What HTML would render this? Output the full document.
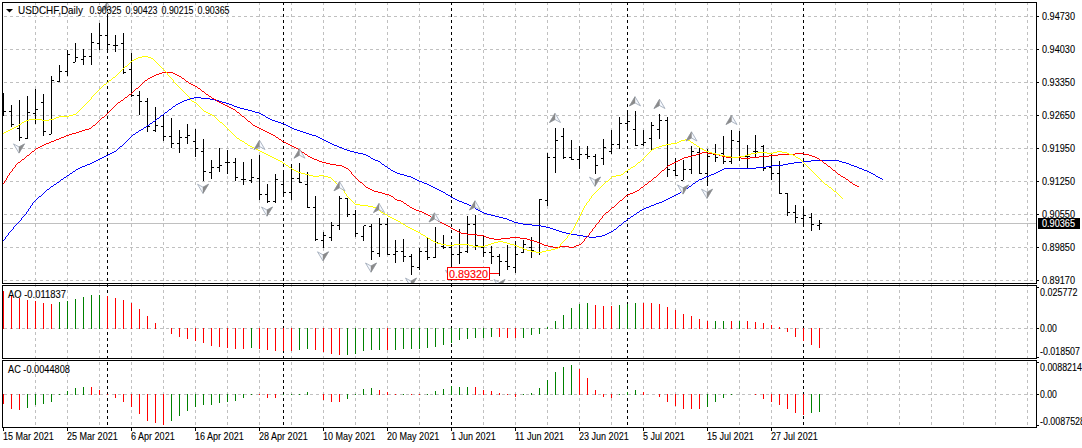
<!DOCTYPE html>
<html><head><meta charset="utf-8">
<style>
html,body{margin:0;padding:0;background:#fff;}
body{width:1082px;height:448px;overflow:hidden;}
svg{display:block;}
text{font-family:"Liberation Sans",sans-serif;}
</style></head><body>
<svg width="1082" height="448" viewBox="0 0 1082 448">
<defs>
<pattern id="vd" x="0" y="0" width="1" height="6" patternUnits="userSpaceOnUse"><rect x="0" y="2" width="1" height="3" fill="#c0c0c0"/></pattern>
<pattern id="vk" x="0" y="0" width="1" height="6" patternUnits="userSpaceOnUse"><rect x="0" y="2" width="1" height="3" fill="#000"/></pattern>
<pattern id="hd" x="0" y="0" width="6" height="1" patternUnits="userSpaceOnUse"><rect x="4" y="0" width="2" height="1" fill="#c0c0c0"/><rect x="0" y="0" width="1" height="1" fill="#c0c0c0"/></pattern>
<clipPath id="mainclip"><rect x="3" y="3" width="1033" height="280"/></clipPath>
</defs>
<rect x="0" y="0" width="1082" height="448" fill="#fff"/>
<g shape-rendering="crispEdges">
<rect x="35" y="3" width="1" height="424" fill="url(#vd)"/>
<rect x="67" y="3" width="1" height="424" fill="url(#vd)"/>
<rect x="99" y="3" width="1" height="424" fill="url(#vd)"/>
<rect x="131" y="3" width="1" height="424" fill="url(#vd)"/>
<rect x="163" y="3" width="1" height="424" fill="url(#vd)"/>
<rect x="195" y="3" width="1" height="424" fill="url(#vd)"/>
<rect x="227" y="3" width="1" height="424" fill="url(#vd)"/>
<rect x="259" y="3" width="1" height="424" fill="url(#vd)"/>
<rect x="291" y="3" width="1" height="424" fill="url(#vd)"/>
<rect x="323" y="3" width="1" height="424" fill="url(#vd)"/>
<rect x="355" y="3" width="1" height="424" fill="url(#vd)"/>
<rect x="387" y="3" width="1" height="424" fill="url(#vd)"/>
<rect x="419" y="3" width="1" height="424" fill="url(#vd)"/>
<rect x="451" y="3" width="1" height="424" fill="url(#vd)"/>
<rect x="483" y="3" width="1" height="424" fill="url(#vd)"/>
<rect x="515" y="3" width="1" height="424" fill="url(#vd)"/>
<rect x="547" y="3" width="1" height="424" fill="url(#vd)"/>
<rect x="579" y="3" width="1" height="424" fill="url(#vd)"/>
<rect x="611" y="3" width="1" height="424" fill="url(#vd)"/>
<rect x="643" y="3" width="1" height="424" fill="url(#vd)"/>
<rect x="675" y="3" width="1" height="424" fill="url(#vd)"/>
<rect x="707" y="3" width="1" height="424" fill="url(#vd)"/>
<rect x="739" y="3" width="1" height="424" fill="url(#vd)"/>
<rect x="771" y="3" width="1" height="424" fill="url(#vd)"/>
<rect x="803" y="3" width="1" height="424" fill="url(#vd)"/>
<rect x="835" y="3" width="1" height="424" fill="url(#vd)"/>
<rect x="867" y="3" width="1" height="424" fill="url(#vd)"/>
<rect x="899" y="3" width="1" height="424" fill="url(#vd)"/>
<rect x="931" y="3" width="1" height="424" fill="url(#vd)"/>
<rect x="963" y="3" width="1" height="424" fill="url(#vd)"/>
<rect x="995" y="3" width="1" height="424" fill="url(#vd)"/>
<rect x="1027" y="3" width="1" height="424" fill="url(#vd)"/>
<rect x="3" y="16" width="1033" height="1" fill="url(#hd)"/>
<rect x="3" y="49" width="1033" height="1" fill="url(#hd)"/>
<rect x="3" y="82" width="1033" height="1" fill="url(#hd)"/>
<rect x="3" y="115" width="1033" height="1" fill="url(#hd)"/>
<rect x="3" y="148" width="1033" height="1" fill="url(#hd)"/>
<rect x="3" y="181" width="1033" height="1" fill="url(#hd)"/>
<rect x="3" y="214" width="1033" height="1" fill="url(#hd)"/>
<rect x="3" y="247" width="1033" height="1" fill="url(#hd)"/>
<rect x="3" y="280" width="1033" height="1" fill="url(#hd)"/>
<rect x="3" y="328" width="1033" height="1" fill="url(#hd)"/>
<rect x="3" y="394" width="1033" height="1" fill="url(#hd)"/>
<rect x="107" y="3" width="1" height="424" fill="url(#vk)"/>
<rect x="283" y="3" width="1" height="424" fill="url(#vk)"/>
<rect x="451" y="3" width="1" height="424" fill="url(#vk)"/>
<rect x="627" y="3" width="1" height="424" fill="url(#vk)"/>
<rect x="803" y="3" width="1" height="424" fill="url(#vk)"/>
<rect x="3" y="223" width="1033" height="1" fill="#c0c0c0"/>
<rect x="3" y="93" width="1" height="23" fill="#000"/>
<rect x="4" y="111" width="2" height="1" fill="#000"/>
<rect x="11" y="105" width="1" height="22" fill="#000"/>
<rect x="9" y="111" width="2" height="1" fill="#000"/>
<rect x="12" y="124" width="2" height="1" fill="#000"/>
<rect x="19" y="100" width="1" height="41" fill="#000"/>
<rect x="17" y="128" width="2" height="1" fill="#000"/>
<rect x="20" y="137" width="2" height="1" fill="#000"/>
<rect x="27" y="96" width="1" height="43" fill="#000"/>
<rect x="25" y="138" width="2" height="1" fill="#000"/>
<rect x="28" y="112" width="2" height="1" fill="#000"/>
<rect x="35" y="89" width="1" height="35" fill="#000"/>
<rect x="33" y="113" width="2" height="1" fill="#000"/>
<rect x="36" y="109" width="2" height="1" fill="#000"/>
<rect x="43" y="94" width="1" height="42" fill="#000"/>
<rect x="41" y="102" width="2" height="1" fill="#000"/>
<rect x="44" y="131" width="2" height="1" fill="#000"/>
<rect x="51" y="76" width="1" height="58" fill="#000"/>
<rect x="49" y="134" width="2" height="1" fill="#000"/>
<rect x="52" y="80" width="2" height="1" fill="#000"/>
<rect x="59" y="65" width="1" height="17" fill="#000"/>
<rect x="57" y="81" width="2" height="1" fill="#000"/>
<rect x="60" y="71" width="2" height="1" fill="#000"/>
<rect x="67" y="50" width="1" height="26" fill="#000"/>
<rect x="65" y="71" width="2" height="1" fill="#000"/>
<rect x="68" y="54" width="2" height="1" fill="#000"/>
<rect x="75" y="43" width="1" height="19" fill="#000"/>
<rect x="73" y="62" width="2" height="1" fill="#000"/>
<rect x="76" y="57" width="2" height="1" fill="#000"/>
<rect x="83" y="49" width="1" height="16" fill="#000"/>
<rect x="81" y="59" width="2" height="1" fill="#000"/>
<rect x="84" y="56" width="2" height="1" fill="#000"/>
<rect x="91" y="33" width="1" height="32" fill="#000"/>
<rect x="89" y="56" width="2" height="1" fill="#000"/>
<rect x="92" y="42" width="2" height="1" fill="#000"/>
<rect x="99" y="23" width="1" height="27" fill="#000"/>
<rect x="97" y="43" width="2" height="1" fill="#000"/>
<rect x="100" y="35" width="2" height="1" fill="#000"/>
<rect x="107" y="14" width="1" height="39" fill="#000"/>
<rect x="105" y="35" width="2" height="1" fill="#000"/>
<rect x="108" y="44" width="2" height="1" fill="#000"/>
<rect x="115" y="35" width="1" height="17" fill="#000"/>
<rect x="113" y="45" width="2" height="1" fill="#000"/>
<rect x="116" y="45" width="2" height="1" fill="#000"/>
<rect x="123" y="33" width="1" height="41" fill="#000"/>
<rect x="121" y="43" width="2" height="1" fill="#000"/>
<rect x="124" y="72" width="2" height="1" fill="#000"/>
<rect x="131" y="53" width="1" height="44" fill="#000"/>
<rect x="129" y="69" width="2" height="1" fill="#000"/>
<rect x="132" y="95" width="2" height="1" fill="#000"/>
<rect x="139" y="91" width="1" height="24" fill="#000"/>
<rect x="137" y="95" width="2" height="1" fill="#000"/>
<rect x="140" y="101" width="2" height="1" fill="#000"/>
<rect x="147" y="98" width="1" height="34" fill="#000"/>
<rect x="145" y="101" width="2" height="1" fill="#000"/>
<rect x="148" y="126" width="2" height="1" fill="#000"/>
<rect x="155" y="107" width="1" height="25" fill="#000"/>
<rect x="153" y="130" width="2" height="1" fill="#000"/>
<rect x="156" y="125" width="2" height="1" fill="#000"/>
<rect x="163" y="114" width="1" height="27" fill="#000"/>
<rect x="161" y="126" width="2" height="1" fill="#000"/>
<rect x="164" y="136" width="2" height="1" fill="#000"/>
<rect x="171" y="118" width="1" height="30" fill="#000"/>
<rect x="169" y="136" width="2" height="1" fill="#000"/>
<rect x="172" y="143" width="2" height="1" fill="#000"/>
<rect x="179" y="130" width="1" height="23" fill="#000"/>
<rect x="177" y="143" width="2" height="1" fill="#000"/>
<rect x="180" y="137" width="2" height="1" fill="#000"/>
<rect x="187" y="124" width="1" height="20" fill="#000"/>
<rect x="185" y="137" width="2" height="1" fill="#000"/>
<rect x="188" y="135" width="2" height="1" fill="#000"/>
<rect x="195" y="129" width="1" height="28" fill="#000"/>
<rect x="193" y="141" width="2" height="1" fill="#000"/>
<rect x="196" y="148" width="2" height="1" fill="#000"/>
<rect x="203" y="139" width="1" height="42" fill="#000"/>
<rect x="201" y="151" width="2" height="1" fill="#000"/>
<rect x="204" y="171" width="2" height="1" fill="#000"/>
<rect x="211" y="160" width="1" height="19" fill="#000"/>
<rect x="209" y="172" width="2" height="1" fill="#000"/>
<rect x="212" y="167" width="2" height="1" fill="#000"/>
<rect x="219" y="148" width="1" height="24" fill="#000"/>
<rect x="217" y="167" width="2" height="1" fill="#000"/>
<rect x="220" y="165" width="2" height="1" fill="#000"/>
<rect x="227" y="150" width="1" height="24" fill="#000"/>
<rect x="225" y="162" width="2" height="1" fill="#000"/>
<rect x="228" y="162" width="2" height="1" fill="#000"/>
<rect x="235" y="158" width="1" height="23" fill="#000"/>
<rect x="233" y="162" width="2" height="1" fill="#000"/>
<rect x="236" y="177" width="2" height="1" fill="#000"/>
<rect x="243" y="162" width="1" height="23" fill="#000"/>
<rect x="241" y="179" width="2" height="1" fill="#000"/>
<rect x="244" y="179" width="2" height="1" fill="#000"/>
<rect x="251" y="159" width="1" height="24" fill="#000"/>
<rect x="249" y="180" width="2" height="1" fill="#000"/>
<rect x="252" y="177" width="2" height="1" fill="#000"/>
<rect x="259" y="155" width="1" height="45" fill="#000"/>
<rect x="257" y="178" width="2" height="1" fill="#000"/>
<rect x="260" y="194" width="2" height="1" fill="#000"/>
<rect x="267" y="184" width="1" height="19" fill="#000"/>
<rect x="265" y="194" width="2" height="1" fill="#000"/>
<rect x="268" y="201" width="2" height="1" fill="#000"/>
<rect x="275" y="174" width="1" height="29" fill="#000"/>
<rect x="273" y="201" width="2" height="1" fill="#000"/>
<rect x="276" y="179" width="2" height="1" fill="#000"/>
<rect x="283" y="170" width="1" height="27" fill="#000"/>
<rect x="281" y="184" width="2" height="1" fill="#000"/>
<rect x="284" y="192" width="2" height="1" fill="#000"/>
<rect x="291" y="164" width="1" height="36" fill="#000"/>
<rect x="289" y="192" width="2" height="1" fill="#000"/>
<rect x="292" y="178" width="2" height="1" fill="#000"/>
<rect x="299" y="163" width="1" height="20" fill="#000"/>
<rect x="297" y="178" width="2" height="1" fill="#000"/>
<rect x="300" y="182" width="2" height="1" fill="#000"/>
<rect x="307" y="172" width="1" height="36" fill="#000"/>
<rect x="305" y="184" width="2" height="1" fill="#000"/>
<rect x="308" y="207" width="2" height="1" fill="#000"/>
<rect x="315" y="196" width="1" height="45" fill="#000"/>
<rect x="313" y="207" width="2" height="1" fill="#000"/>
<rect x="316" y="239" width="2" height="1" fill="#000"/>
<rect x="323" y="232" width="1" height="16" fill="#000"/>
<rect x="321" y="240" width="2" height="1" fill="#000"/>
<rect x="324" y="235" width="2" height="1" fill="#000"/>
<rect x="331" y="222" width="1" height="19" fill="#000"/>
<rect x="329" y="237" width="2" height="1" fill="#000"/>
<rect x="332" y="225" width="2" height="1" fill="#000"/>
<rect x="339" y="196" width="1" height="34" fill="#000"/>
<rect x="337" y="225" width="2" height="1" fill="#000"/>
<rect x="340" y="198" width="2" height="1" fill="#000"/>
<rect x="347" y="198" width="1" height="19" fill="#000"/>
<rect x="345" y="198" width="2" height="1" fill="#000"/>
<rect x="348" y="214" width="2" height="1" fill="#000"/>
<rect x="355" y="210" width="1" height="27" fill="#000"/>
<rect x="353" y="214" width="2" height="1" fill="#000"/>
<rect x="356" y="233" width="2" height="1" fill="#000"/>
<rect x="363" y="226" width="1" height="15" fill="#000"/>
<rect x="361" y="236" width="2" height="1" fill="#000"/>
<rect x="364" y="225" width="2" height="1" fill="#000"/>
<rect x="371" y="224" width="1" height="36" fill="#000"/>
<rect x="369" y="226" width="2" height="1" fill="#000"/>
<rect x="372" y="251" width="2" height="1" fill="#000"/>
<rect x="379" y="218" width="1" height="39" fill="#000"/>
<rect x="377" y="253" width="2" height="1" fill="#000"/>
<rect x="380" y="224" width="2" height="1" fill="#000"/>
<rect x="387" y="218" width="1" height="37" fill="#000"/>
<rect x="385" y="224" width="2" height="1" fill="#000"/>
<rect x="388" y="254" width="2" height="1" fill="#000"/>
<rect x="395" y="240" width="1" height="23" fill="#000"/>
<rect x="393" y="254" width="2" height="1" fill="#000"/>
<rect x="396" y="251" width="2" height="1" fill="#000"/>
<rect x="403" y="239" width="1" height="23" fill="#000"/>
<rect x="401" y="251" width="2" height="1" fill="#000"/>
<rect x="404" y="256" width="2" height="1" fill="#000"/>
<rect x="411" y="254" width="1" height="21" fill="#000"/>
<rect x="409" y="256" width="2" height="1" fill="#000"/>
<rect x="412" y="266" width="2" height="1" fill="#000"/>
<rect x="419" y="248" width="1" height="22" fill="#000"/>
<rect x="417" y="267" width="2" height="1" fill="#000"/>
<rect x="420" y="251" width="2" height="1" fill="#000"/>
<rect x="427" y="237" width="1" height="23" fill="#000"/>
<rect x="425" y="251" width="2" height="1" fill="#000"/>
<rect x="428" y="257" width="2" height="1" fill="#000"/>
<rect x="435" y="227" width="1" height="31" fill="#000"/>
<rect x="433" y="257" width="2" height="1" fill="#000"/>
<rect x="436" y="242" width="2" height="1" fill="#000"/>
<rect x="443" y="235" width="1" height="14" fill="#000"/>
<rect x="441" y="246" width="2" height="1" fill="#000"/>
<rect x="444" y="247" width="2" height="1" fill="#000"/>
<rect x="451" y="244" width="1" height="23" fill="#000"/>
<rect x="449" y="247" width="2" height="1" fill="#000"/>
<rect x="452" y="254" width="2" height="1" fill="#000"/>
<rect x="459" y="229" width="1" height="35" fill="#000"/>
<rect x="457" y="254" width="2" height="1" fill="#000"/>
<rect x="460" y="252" width="2" height="1" fill="#000"/>
<rect x="467" y="216" width="1" height="37" fill="#000"/>
<rect x="465" y="251" width="2" height="1" fill="#000"/>
<rect x="468" y="224" width="2" height="1" fill="#000"/>
<rect x="475" y="215" width="1" height="35" fill="#000"/>
<rect x="473" y="224" width="2" height="1" fill="#000"/>
<rect x="476" y="245" width="2" height="1" fill="#000"/>
<rect x="483" y="236" width="1" height="21" fill="#000"/>
<rect x="481" y="247" width="2" height="1" fill="#000"/>
<rect x="484" y="252" width="2" height="1" fill="#000"/>
<rect x="491" y="246" width="1" height="18" fill="#000"/>
<rect x="489" y="252" width="2" height="1" fill="#000"/>
<rect x="492" y="256" width="2" height="1" fill="#000"/>
<rect x="499" y="254" width="1" height="22" fill="#000"/>
<rect x="497" y="256" width="2" height="1" fill="#000"/>
<rect x="500" y="261" width="2" height="1" fill="#000"/>
<rect x="507" y="245" width="1" height="25" fill="#000"/>
<rect x="505" y="261" width="2" height="1" fill="#000"/>
<rect x="508" y="266" width="2" height="1" fill="#000"/>
<rect x="515" y="241" width="1" height="32" fill="#000"/>
<rect x="513" y="267" width="2" height="1" fill="#000"/>
<rect x="516" y="254" width="2" height="1" fill="#000"/>
<rect x="523" y="240" width="1" height="13" fill="#000"/>
<rect x="521" y="252" width="2" height="1" fill="#000"/>
<rect x="524" y="244" width="2" height="1" fill="#000"/>
<rect x="531" y="237" width="1" height="21" fill="#000"/>
<rect x="529" y="247" width="2" height="1" fill="#000"/>
<rect x="532" y="250" width="2" height="1" fill="#000"/>
<rect x="539" y="199" width="1" height="56" fill="#000"/>
<rect x="537" y="252" width="2" height="1" fill="#000"/>
<rect x="540" y="199" width="2" height="1" fill="#000"/>
<rect x="547" y="153" width="1" height="53" fill="#000"/>
<rect x="545" y="200" width="2" height="1" fill="#000"/>
<rect x="548" y="157" width="2" height="1" fill="#000"/>
<rect x="555" y="128" width="1" height="45" fill="#000"/>
<rect x="553" y="157" width="2" height="1" fill="#000"/>
<rect x="556" y="140" width="2" height="1" fill="#000"/>
<rect x="563" y="128" width="1" height="31" fill="#000"/>
<rect x="561" y="136" width="2" height="1" fill="#000"/>
<rect x="564" y="157" width="2" height="1" fill="#000"/>
<rect x="571" y="140" width="1" height="20" fill="#000"/>
<rect x="569" y="157" width="2" height="1" fill="#000"/>
<rect x="572" y="159" width="2" height="1" fill="#000"/>
<rect x="579" y="146" width="1" height="23" fill="#000"/>
<rect x="577" y="159" width="2" height="1" fill="#000"/>
<rect x="580" y="154" width="2" height="1" fill="#000"/>
<rect x="587" y="146" width="1" height="13" fill="#000"/>
<rect x="585" y="154" width="2" height="1" fill="#000"/>
<rect x="588" y="156" width="2" height="1" fill="#000"/>
<rect x="595" y="154" width="1" height="20" fill="#000"/>
<rect x="593" y="156" width="2" height="1" fill="#000"/>
<rect x="596" y="165" width="2" height="1" fill="#000"/>
<rect x="603" y="139" width="1" height="26" fill="#000"/>
<rect x="601" y="158" width="2" height="1" fill="#000"/>
<rect x="604" y="147" width="2" height="1" fill="#000"/>
<rect x="611" y="130" width="1" height="24" fill="#000"/>
<rect x="609" y="151" width="2" height="1" fill="#000"/>
<rect x="612" y="144" width="2" height="1" fill="#000"/>
<rect x="619" y="117" width="1" height="32" fill="#000"/>
<rect x="617" y="144" width="2" height="1" fill="#000"/>
<rect x="620" y="123" width="2" height="1" fill="#000"/>
<rect x="627" y="110" width="1" height="21" fill="#000"/>
<rect x="625" y="123" width="2" height="1" fill="#000"/>
<rect x="628" y="121" width="2" height="1" fill="#000"/>
<rect x="635" y="111" width="1" height="35" fill="#000"/>
<rect x="633" y="129" width="2" height="1" fill="#000"/>
<rect x="636" y="145" width="2" height="1" fill="#000"/>
<rect x="643" y="130" width="1" height="16" fill="#000"/>
<rect x="641" y="144" width="2" height="1" fill="#000"/>
<rect x="644" y="142" width="2" height="1" fill="#000"/>
<rect x="651" y="122" width="1" height="28" fill="#000"/>
<rect x="649" y="138" width="2" height="1" fill="#000"/>
<rect x="652" y="125" width="2" height="1" fill="#000"/>
<rect x="659" y="114" width="1" height="25" fill="#000"/>
<rect x="657" y="129" width="2" height="1" fill="#000"/>
<rect x="660" y="120" width="2" height="1" fill="#000"/>
<rect x="667" y="117" width="1" height="60" fill="#000"/>
<rect x="665" y="120" width="2" height="1" fill="#000"/>
<rect x="668" y="169" width="2" height="1" fill="#000"/>
<rect x="675" y="158" width="1" height="18" fill="#000"/>
<rect x="673" y="170" width="2" height="1" fill="#000"/>
<rect x="676" y="175" width="2" height="1" fill="#000"/>
<rect x="683" y="160" width="1" height="20" fill="#000"/>
<rect x="681" y="180" width="2" height="1" fill="#000"/>
<rect x="684" y="169" width="2" height="1" fill="#000"/>
<rect x="691" y="146" width="1" height="28" fill="#000"/>
<rect x="689" y="169" width="2" height="1" fill="#000"/>
<rect x="692" y="151" width="2" height="1" fill="#000"/>
<rect x="699" y="147" width="1" height="27" fill="#000"/>
<rect x="697" y="152" width="2" height="1" fill="#000"/>
<rect x="700" y="173" width="2" height="1" fill="#000"/>
<rect x="707" y="149" width="1" height="37" fill="#000"/>
<rect x="705" y="173" width="2" height="1" fill="#000"/>
<rect x="708" y="156" width="2" height="1" fill="#000"/>
<rect x="715" y="144" width="1" height="18" fill="#000"/>
<rect x="713" y="154" width="2" height="1" fill="#000"/>
<rect x="716" y="157" width="2" height="1" fill="#000"/>
<rect x="723" y="136" width="1" height="28" fill="#000"/>
<rect x="721" y="153" width="2" height="1" fill="#000"/>
<rect x="724" y="161" width="2" height="1" fill="#000"/>
<rect x="731" y="130" width="1" height="34" fill="#000"/>
<rect x="729" y="161" width="2" height="1" fill="#000"/>
<rect x="732" y="140" width="2" height="1" fill="#000"/>
<rect x="739" y="131" width="1" height="30" fill="#000"/>
<rect x="737" y="141" width="2" height="1" fill="#000"/>
<rect x="740" y="156" width="2" height="1" fill="#000"/>
<rect x="747" y="145" width="1" height="23" fill="#000"/>
<rect x="745" y="156" width="2" height="1" fill="#000"/>
<rect x="748" y="156" width="2" height="1" fill="#000"/>
<rect x="755" y="135" width="1" height="22" fill="#000"/>
<rect x="753" y="151" width="2" height="1" fill="#000"/>
<rect x="756" y="151" width="2" height="1" fill="#000"/>
<rect x="763" y="145" width="1" height="26" fill="#000"/>
<rect x="761" y="146" width="2" height="1" fill="#000"/>
<rect x="764" y="168" width="2" height="1" fill="#000"/>
<rect x="771" y="153" width="1" height="27" fill="#000"/>
<rect x="769" y="167" width="2" height="1" fill="#000"/>
<rect x="772" y="173" width="2" height="1" fill="#000"/>
<rect x="779" y="161" width="1" height="33" fill="#000"/>
<rect x="777" y="173" width="2" height="1" fill="#000"/>
<rect x="780" y="193" width="2" height="1" fill="#000"/>
<rect x="787" y="193" width="1" height="23" fill="#000"/>
<rect x="785" y="193" width="2" height="1" fill="#000"/>
<rect x="788" y="212" width="2" height="1" fill="#000"/>
<rect x="795" y="205" width="1" height="18" fill="#000"/>
<rect x="793" y="212" width="2" height="1" fill="#000"/>
<rect x="796" y="217" width="2" height="1" fill="#000"/>
<rect x="803" y="207" width="1" height="20" fill="#000"/>
<rect x="801" y="218" width="2" height="1" fill="#000"/>
<rect x="804" y="215" width="2" height="1" fill="#000"/>
<rect x="811" y="213" width="1" height="18" fill="#000"/>
<rect x="809" y="217" width="2" height="1" fill="#000"/>
<rect x="812" y="224" width="2" height="1" fill="#000"/>
<rect x="819" y="220" width="1" height="10" fill="#000"/>
<rect x="817" y="225" width="2" height="1" fill="#000"/>
<rect x="820" y="223" width="2" height="1" fill="#000"/>
<path d="M56,183h1v1h-1zM424,183h3v1h-3zM693,183h2v1h-2zM75,170h1v1h-1zM391,170h2v1h-2zM720,170h2v1h-2zM864,170h3v1h-3zM141,129h2v1h-2zM294,129h3v1h-3zM35,200h1v1h-1zM457,200h2v1h-2zM664,200h2v1h-2zM39,196h2v1h-2zM450,196h1v1h-1zM672,196h2v1h-2zM112,152h2v1h-2zM354,152h4v1h-4zM51,186h2v1h-2zM431,186h2v1h-2zM689,186h2v1h-2zM169,109h2v1h-2zM244,109h4v1h-4zM80,167h2v1h-2zM387,167h1v1h-1zM756,167h10v1h-10zM857,167h2v1h-2zM13,228h1v1h-1zM550,228h3v1h-3zM616,228h1v1h-1zM24,215h1v1h-1zM491,215h4v1h-4zM633,215h1v1h-1zM8,233h1v1h-1zM566,233h5v1h-5zM607,233h2v1h-2zM139,130h2v1h-2zM297,130h3v1h-3zM45,191h1v1h-1zM441,191h2v1h-2zM681,191h2v1h-2zM38,197h1v1h-1zM451,197h2v1h-2zM670,197h2v1h-2zM32,204h1v1h-1zM467,204h2v1h-2zM654,204h2v1h-2zM78,168h2v1h-2zM388,168h2v1h-2zM724,168h32v1h-32zM859,168h3v1h-3zM15,225h1v1h-1zM532,225h9v1h-9zM619,225h2v1h-2zM66,176h1v1h-1zM407,176h4v1h-4zM706,176h3v1h-3zM876,176h2v1h-2zM31,205h1v1h-1zM469,205h2v1h-2zM651,205h3v1h-3zM17,223h1v1h-1zM518,223h5v1h-5zM622,223h1v1h-1zM133,134h2v1h-2zM309,134h3v1h-3zM90,163h2v1h-2zM381,163h1v1h-1zM788,163h6v1h-6zM846,163h3v1h-3zM13,227h1v1h-1zM546,227h4v1h-4zM617,227h1v1h-1zM67,175h2v1h-2zM404,175h3v1h-3zM709,175h2v1h-2zM875,175h1v1h-1zM49,188h1v1h-1zM435,188h2v1h-2zM686,188h2v1h-2zM194,97h7v1h-7zM42,194h1v1h-1zM446,194h2v1h-2zM676,194h2v1h-2zM8,234h1v1h-1zM571,234h6v1h-6zM605,234h2v1h-2zM187,99h3v1h-3zM210,99h5v1h-5zM96,160h2v1h-2zM375,160h3v1h-3zM811,160h28v1h-28zM6,236h1v1h-1zM583,236h6v1h-6zM596,236h6v1h-6zM135,133h1v1h-1zM306,133h3v1h-3zM117,149h1v1h-1zM344,149h3v1h-3zM190,98h4v1h-4zM201,98h9v1h-9zM69,174h1v1h-1zM400,174h4v1h-4zM711,174h3v1h-3zM873,174h2v1h-2zM94,161h2v1h-2zM378,161h2v1h-2zM802,161h9v1h-9zM839,161h3v1h-3zM150,123h2v1h-2zM281,123h3v1h-3zM30,206h1v1h-1zM471,206h2v1h-2zM649,206h2v1h-2zM108,154h2v1h-2zM363,154h3v1h-3zM57,182h2v1h-2zM422,182h2v1h-2zM695,182h1v1h-1zM85,165h2v1h-2zM384,165h1v1h-1zM772,165h11v1h-11zM851,165h3v1h-3zM120,146h2v1h-2zM337,146h2v1h-2zM110,153h2v1h-2zM358,153h5v1h-5zM23,216h1v1h-1zM495,216h4v1h-4zM631,216h2v1h-2zM92,162h2v1h-2zM380,162h1v1h-1zM794,162h8v1h-8zM842,162h4v1h-4zM100,158h2v1h-2zM371,158h2v1h-2zM18,222h1v1h-1zM514,222h4v1h-4zM623,222h1v1h-1zM28,209h1v1h-1zM476,209h2v1h-2zM642,209h2v1h-2zM61,179h2v1h-2zM415,179h2v1h-2zM699,179h3v1h-3zM882,179h1v1h-1zM25,214h1v1h-1zM487,214h4v1h-4zM634,214h2v1h-2zM28,210h1v1h-1zM478,210h2v1h-2zM640,210h2v1h-2zM21,219h1v1h-1zM507,219h2v1h-2zM627,219h1v1h-1zM7,235h1v1h-1zM577,235h6v1h-6zM602,235h3v1h-3zM136,132h2v1h-2zM303,132h3v1h-3zM54,184h2v1h-2zM427,184h2v1h-2zM692,184h1v1h-1zM27,211h1v1h-1zM480,211h2v1h-2zM639,211h1v1h-1zM43,193h1v1h-1zM445,193h1v1h-1zM678,193h2v1h-2zM184,100h3v1h-3zM215,100h4v1h-4zM20,220h1v1h-1zM509,220h3v1h-3zM626,220h1v1h-1zM59,181h1v1h-1zM419,181h3v1h-3zM696,181h2v1h-2zM64,177h2v1h-2zM411,177h2v1h-2zM704,177h2v1h-2zM878,177h2v1h-2zM5,237h1v1h-1zM589,237h7v1h-7zM32,203h1v1h-1zM464,203h3v1h-3zM656,203h3v1h-3zM41,195h1v1h-1zM448,195h2v1h-2zM674,195h2v1h-2zM4,239h1v1h-1zM63,178h1v1h-1zM413,178h2v1h-2zM702,178h2v1h-2zM880,178h2v1h-2zM182,101h2v1h-2zM219,101h3v1h-3zM98,159h2v1h-2zM373,159h2v1h-2zM132,135h1v1h-1zM312,135h4v1h-4zM47,189h2v1h-2zM437,189h2v1h-2zM685,189h1v1h-1zM53,185h1v1h-1zM429,185h2v1h-2zM691,185h1v1h-1zM147,125h2v1h-2zM286,125h2v1h-2zM104,156h2v1h-2zM368,156h2v1h-2zM46,190h1v1h-1zM439,190h2v1h-2zM683,190h2v1h-2zM12,229h1v1h-1zM553,229h3v1h-3zM614,229h2v1h-2zM128,139h1v1h-1zM322,139h2v1h-2zM33,202h1v1h-1zM462,202h2v1h-2zM659,202h3v1h-3zM119,147h1v1h-1zM339,147h3v1h-3zM87,164h3v1h-3zM382,164h2v1h-2zM783,164h5v1h-5zM849,164h2v1h-2zM82,166h3v1h-3zM385,166h2v1h-2zM766,166h6v1h-6zM854,166h3v1h-3zM168,110h1v1h-1zM248,110h4v1h-4zM16,224h1v1h-1zM523,224h9v1h-9zM621,224h1v1h-1zM50,187h1v1h-1zM433,187h2v1h-2zM688,187h1v1h-1zM123,144h1v1h-1zM332,144h2v1h-2zM73,171h2v1h-2zM393,171h2v1h-2zM718,171h2v1h-2zM867,171h2v1h-2zM122,145h1v1h-1zM334,145h3v1h-3zM180,102h2v1h-2zM222,102h4v1h-4zM19,221h1v1h-1zM512,221h2v1h-2zM624,221h2v1h-2zM125,142h1v1h-1zM328,142h2v1h-2zM178,103h2v1h-2zM226,103h3v1h-3zM157,118h2v1h-2zM268,118h2v1h-2zM11,230h1v1h-1zM556,230h3v1h-3zM613,230h1v1h-1zM173,106h2v1h-2zM234,106h3v1h-3zM155,120h1v1h-1zM272,120h3v1h-3zM10,231h1v1h-1zM559,231h3v1h-3zM611,231h2v1h-2zM159,117h1v1h-1zM266,117h2v1h-2zM127,140h1v1h-1zM324,140h2v1h-2zM106,155h2v1h-2zM366,155h2v1h-2zM131,136h1v1h-1zM316,136h2v1h-2zM160,116h1v1h-1zM265,116h1v1h-1zM9,232h1v1h-1zM562,232h4v1h-4zM609,232h2v1h-2zM70,173h2v1h-2zM397,173h3v1h-3zM714,173h2v1h-2zM871,173h2v1h-2zM130,137h1v1h-1zM318,137h2v1h-2zM116,150h1v1h-1zM347,150h3v1h-3zM118,148h1v1h-1zM342,148h2v1h-2zM129,138h1v1h-1zM320,138h2v1h-2zM163,114h1v1h-1zM261,114h2v1h-2zM44,192h1v1h-1zM443,192h2v1h-2zM680,192h1v1h-1zM167,111h1v1h-1zM252,111h3v1h-3zM14,226h1v1h-1zM541,226h5v1h-5zM618,226h1v1h-1zM22,217h1v1h-1zM499,217h4v1h-4zM630,217h1v1h-1zM152,122h1v1h-1zM278,122h3v1h-3zM37,198h1v1h-1zM453,198h2v1h-2zM668,198h2v1h-2zM26,212h1v1h-1zM482,212h2v1h-2zM637,212h2v1h-2zM165,112h2v1h-2zM255,112h4v1h-4zM76,169h2v1h-2zM390,169h1v1h-1zM722,169h2v1h-2zM862,169h2v1h-2zM34,201h1v1h-1zM459,201h3v1h-3zM662,201h2v1h-2zM72,172h1v1h-1zM395,172h2v1h-2zM716,172h2v1h-2zM869,172h2v1h-2zM176,104h2v1h-2zM229,104h3v1h-3zM153,121h2v1h-2zM275,121h3v1h-3zM26,213h1v1h-1zM484,213h3v1h-3zM636,213h1v1h-1zM114,151h2v1h-2zM350,151h4v1h-4zM36,199h1v1h-1zM455,199h2v1h-2zM666,199h2v1h-2zM21,218h1v1h-1zM503,218h4v1h-4zM628,218h2v1h-2zM171,108h1v1h-1zM240,108h4v1h-4zM30,207h1v1h-1zM473,207h2v1h-2zM646,207h3v1h-3zM172,107h1v1h-1zM237,107h3v1h-3zM161,115h2v1h-2zM263,115h2v1h-2zM138,131h1v1h-1zM300,131h3v1h-3zM60,180h1v1h-1zM417,180h2v1h-2zM698,180h1v1h-1zM29,208h1v1h-1zM475,208h1v1h-1zM644,208h2v1h-2zM126,141h1v1h-1zM326,141h2v1h-2zM124,143h1v1h-1zM330,143h2v1h-2zM156,119h1v1h-1zM270,119h2v1h-2zM5,238h1v1h-1zM144,127h2v1h-2zM290,127h2v1h-2zM102,157h2v1h-2zM370,157h1v1h-1zM175,105h1v1h-1zM232,105h2v1h-2zM146,126h1v1h-1zM288,126h2v1h-2zM143,128h1v1h-1zM292,128h2v1h-2zM149,124h1v1h-1zM284,124h2v1h-2zM3,240h1v1h-1zM164,113h1v1h-1zM259,113h2v1h-2z" fill="#0000ff"/>
<path d="M548,246h5v1h-5zM560,246h9v1h-9zM574,246h2v1h-2zM9,174h1v1h-1zM352,174h1v1h-1zM658,174h1v1h-1zM838,174h2v1h-2zM489,238h5v1h-5zM501,238h9v1h-9zM520,238h7v1h-7zM585,238h1v1h-1zM107,113h1v1h-1zM239,113h1v1h-1zM29,154h1v1h-1zM305,154h2v1h-2zM696,154h3v1h-3zM714,154h5v1h-5zM778,154h17v1h-17zM804,154h5v1h-5zM111,109h1v1h-1zM233,109h2v1h-2zM115,105h1v1h-1zM225,105h2v1h-2zM25,157h1v1h-1zM310,157h2v1h-2zM684,157h4v1h-4zM726,157h15v1h-15zM750,157h9v1h-9zM815,157h2v1h-2zM120,101h1v1h-1zM217,101h2v1h-2zM539,243h3v1h-3zM581,243h1v1h-1zM162,72h11v1h-11zM99,120h1v1h-1zM247,120h1v1h-1zM56,139h3v1h-3zM279,139h2v1h-2zM544,245h4v1h-4zM576,245h3v1h-3zM467,234h10v1h-10zM589,234h1v1h-1zM15,166h1v1h-1zM342,166h2v1h-2zM667,166h1v1h-1zM828,166h2v1h-2zM79,131h3v1h-3zM265,131h2v1h-2zM26,156h1v1h-1zM308,156h2v1h-2zM688,156h4v1h-4zM722,156h4v1h-4zM759,156h10v1h-10zM812,156h3v1h-3zM7,176h1v1h-1zM354,176h1v1h-1zM656,176h1v1h-1zM841,176h2v1h-2zM494,239h7v1h-7zM527,239h3v1h-3zM584,239h1v1h-1zM136,88h2v1h-2zM198,88h2v1h-2zM141,84h1v1h-1zM191,84h2v1h-2zM148,78h2v1h-2zM182,78h2v1h-2zM391,196h2v1h-2zM625,196h1v1h-1zM138,87h1v1h-1zM197,87h1v1h-1zM6,178h1v1h-1zM356,178h1v1h-1zM653,178h1v1h-1zM845,178h1v1h-1zM117,103h1v1h-1zM221,103h2v1h-2zM10,172h1v1h-1zM351,172h1v1h-1zM660,172h1v1h-1zM836,172h1v1h-1zM448,226h2v1h-2zM595,226h1v1h-1zM31,152h1v1h-1zM302,152h2v1h-2zM702,152h5v1h-5zM140,85h1v1h-1zM193,85h2v1h-2zM459,232h2v1h-2zM590,232h1v1h-1zM461,233h6v1h-6zM589,233h1v1h-1zM139,86h1v1h-1zM195,86h2v1h-2zM123,99h1v1h-1zM214,99h2v1h-2zM61,137h3v1h-3zM276,137h2v1h-2zM72,133h4v1h-4zM269,133h2v1h-2zM27,155h2v1h-2zM307,155h1v1h-1zM692,155h4v1h-4zM719,155h3v1h-3zM769,155h9v1h-9zM809,155h3v1h-3zM431,217h2v1h-2zM602,217h1v1h-1zM114,106h1v1h-1zM227,106h2v1h-2zM159,73h3v1h-3zM173,73h2v1h-2zM444,224h2v1h-2zM596,224h1v1h-1zM374,191h4v1h-4zM635,191h2v1h-2zM104,116h1v1h-1zM242,116h2v1h-2zM438,221h2v1h-2zM599,221h1v1h-1zM486,237h3v1h-3zM510,237h10v1h-10zM586,237h1v1h-1zM21,160h1v1h-1zM317,160h2v1h-2zM678,160h2v1h-2zM820,160h2v1h-2zM66,135h3v1h-3zM273,135h2v1h-2zM51,141h3v1h-3zM282,141h2v1h-2zM553,247h7v1h-7zM569,247h5v1h-5zM442,223h2v1h-2zM597,223h1v1h-1zM98,121h1v1h-1zM248,121h2v1h-2zM15,165h1v1h-1zM336,165h6v1h-6zM668,165h2v1h-2zM827,165h1v1h-1zM24,158h1v1h-1zM312,158h2v1h-2zM682,158h2v1h-2zM741,158h9v1h-9zM817,158h2v1h-2zM440,222h2v1h-2zM598,222h1v1h-1zM433,218h2v1h-2zM601,218h1v1h-1zM145,80h2v1h-2zM185,80h1v1h-1zM12,169h1v1h-1zM348,169h1v1h-1zM664,169h1v1h-1zM832,169h1v1h-1zM370,189h2v1h-2zM639,189h1v1h-1zM18,162h2v1h-2zM322,162h4v1h-4zM674,162h2v1h-2zM823,162h1v1h-1zM91,127h1v1h-1zM257,127h2v1h-2zM363,184h1v1h-1zM645,184h2v1h-2zM853,184h2v1h-2zM85,129h4v1h-4zM261,129h2v1h-2zM3,183h1v1h-1zM362,183h1v1h-1zM647,183h1v1h-1zM852,183h1v1h-1zM124,98h1v1h-1zM212,98h2v1h-2zM95,124h1v1h-1zM252,124h1v1h-1zM30,153h1v1h-1zM304,153h1v1h-1zM699,153h3v1h-3zM707,153h7v1h-7zM795,153h9v1h-9zM406,204h1v1h-1zM616,204h1v1h-1zM64,136h2v1h-2zM275,136h1v1h-1zM437,220h1v1h-1zM599,220h1v1h-1zM424,213h2v1h-2zM605,213h1v1h-1zM477,235h7v1h-7zM588,235h1v1h-1zM121,100h2v1h-2zM216,100h1v1h-1zM5,180h1v1h-1zM358,180h1v1h-1zM651,180h1v1h-1zM848,180h1v1h-1zM366,187h2v1h-2zM641,187h2v1h-2zM416,210h3v1h-3zM609,210h1v1h-1zM368,188h2v1h-2zM640,188h1v1h-1zM125,97h2v1h-2zM211,97h1v1h-1zM144,81h1v1h-1zM186,81h2v1h-2zM414,209h2v1h-2zM610,209h1v1h-1zM382,193h3v1h-3zM630,193h3v1h-3zM127,96h1v1h-1zM209,96h2v1h-2zM69,134h3v1h-3zM271,134h2v1h-2zM7,177h1v1h-1zM355,177h1v1h-1zM654,177h2v1h-2zM843,177h2v1h-2zM44,144h2v1h-2zM288,144h2v1h-2zM22,159h2v1h-2zM314,159h3v1h-3zM680,159h2v1h-2zM819,159h1v1h-1zM14,167h1v1h-1zM344,167h2v1h-2zM666,167h1v1h-1zM830,167h1v1h-1zM407,205h2v1h-2zM615,205h1v1h-1zM54,140h2v1h-2zM281,140h1v1h-1zM59,138h2v1h-2zM278,138h1v1h-1zM82,130h3v1h-3zM263,130h2v1h-2zM102,117h2v1h-2zM244,117h1v1h-1zM9,173h1v1h-1zM351,173h1v1h-1zM659,173h1v1h-1zM837,173h1v1h-1zM410,207h2v1h-2zM612,207h2v1h-2zM12,170h1v1h-1zM349,170h1v1h-1zM662,170h2v1h-2zM833,170h2v1h-2zM389,195h2v1h-2zM626,195h2v1h-2zM20,161h1v1h-1zM319,161h3v1h-3zM676,161h2v1h-2zM822,161h1v1h-1zM395,199h2v1h-2zM622,199h1v1h-1zM426,214h2v1h-2zM604,214h1v1h-1zM364,185h1v1h-1zM644,185h1v1h-1zM855,185h2v1h-2zM131,93h1v1h-1zM205,93h1v1h-1zM129,94h2v1h-2zM206,94h2v1h-2zM93,125h2v1h-2zM253,125h2v1h-2zM428,215h2v1h-2zM603,215h1v1h-1zM89,128h2v1h-2zM259,128h2v1h-2zM419,211h3v1h-3zM608,211h1v1h-1zM133,91h1v1h-1zM202,91h2v1h-2zM35,149h1v1h-1zM298,149h1v1h-1zM422,212h2v1h-2zM606,212h2v1h-2zM156,74h3v1h-3zM175,74h2v1h-2zM16,164h1v1h-1zM330,164h6v1h-6zM670,164h2v1h-2zM826,164h1v1h-1zM17,163h1v1h-1zM326,163h4v1h-4zM672,163h2v1h-2zM824,163h2v1h-2zM40,146h2v1h-2zM292,146h2v1h-2zM530,240h4v1h-4zM584,240h1v1h-1zM109,111h1v1h-1zM236,111h1v1h-1zM38,147h2v1h-2zM294,147h2v1h-2zM132,92h1v1h-1zM204,92h1v1h-1zM46,143h3v1h-3zM286,143h2v1h-2zM13,168h1v1h-1zM346,168h2v1h-2zM665,168h1v1h-1zM831,168h1v1h-1zM76,132h3v1h-3zM267,132h2v1h-2zM484,236h2v1h-2zM587,236h1v1h-1zM378,192h4v1h-4zM633,192h2v1h-2zM401,201h2v1h-2zM619,201h1v1h-1zM154,75h2v1h-2zM177,75h2v1h-2zM542,244h2v1h-2zM579,244h2v1h-2zM6,179h1v1h-1zM357,179h1v1h-1zM652,179h1v1h-1zM846,179h2v1h-2zM403,202h1v1h-1zM618,202h1v1h-1zM42,145h2v1h-2zM290,145h2v1h-2zM372,190h2v1h-2zM637,190h2v1h-2zM97,122h1v1h-1zM250,122h1v1h-1zM32,151h2v1h-2zM301,151h1v1h-1zM152,76h2v1h-2zM179,76h2v1h-2zM397,200h4v1h-4zM620,200h2v1h-2zM36,148h2v1h-2zM296,148h2v1h-2zM108,112h1v1h-1zM237,112h2v1h-2zM412,208h2v1h-2zM611,208h1v1h-1zM116,104h1v1h-1zM223,104h2v1h-2zM4,182h1v1h-1zM360,182h2v1h-2zM648,182h1v1h-1zM850,182h2v1h-2zM537,242h2v1h-2zM582,242h1v1h-1zM112,108h1v1h-1zM231,108h2v1h-2zM385,194h4v1h-4zM628,194h2v1h-2zM100,119h1v1h-1zM246,119h1v1h-1zM453,229h2v1h-2zM592,229h1v1h-1zM142,83h1v1h-1zM189,83h2v1h-2zM455,230h2v1h-2zM592,230h1v1h-1zM135,89h1v1h-1zM200,89h1v1h-1zM118,102h2v1h-2zM219,102h2v1h-2zM8,175h1v1h-1zM353,175h1v1h-1zM657,175h1v1h-1zM840,175h1v1h-1zM11,171h1v1h-1zM350,171h1v1h-1zM661,171h1v1h-1zM835,171h1v1h-1zM457,231h2v1h-2zM591,231h1v1h-1zM450,227h1v1h-1zM594,227h1v1h-1zM4,181h1v1h-1zM359,181h1v1h-1zM649,181h2v1h-2zM849,181h1v1h-1zM451,228h2v1h-2zM593,228h1v1h-1zM113,107h1v1h-1zM229,107h2v1h-2zM435,219h2v1h-2zM600,219h1v1h-1zM446,225h2v1h-2zM595,225h1v1h-1zM365,186h1v1h-1zM643,186h1v1h-1zM857,186h2v1h-2zM101,118h1v1h-1zM245,118h1v1h-1zM34,150h1v1h-1zM299,150h2v1h-2zM143,82h1v1h-1zM188,82h1v1h-1zM430,216h1v1h-1zM602,216h1v1h-1zM92,126h1v1h-1zM255,126h2v1h-2zM49,142h2v1h-2zM284,142h2v1h-2zM106,114h1v1h-1zM240,114h1v1h-1zM150,77h2v1h-2zM181,77h1v1h-1zM147,79h1v1h-1zM184,79h1v1h-1zM404,203h2v1h-2zM617,203h1v1h-1zM96,123h1v1h-1zM251,123h1v1h-1zM393,197h1v1h-1zM624,197h1v1h-1zM534,241h3v1h-3zM583,241h1v1h-1zM110,110h1v1h-1zM235,110h1v1h-1zM134,90h1v1h-1zM201,90h1v1h-1zM128,95h1v1h-1zM208,95h1v1h-1zM105,115h1v1h-1zM241,115h1v1h-1zM394,198h1v1h-1zM623,198h1v1h-1zM409,206h1v1h-1zM614,206h1v1h-1z" fill="#ff0000"/>
<path d="M441,244h5v1h-5zM454,244h15v1h-15zM488,244h3v1h-3zM510,244h4v1h-4zM560,244h1v1h-1zM519,247h3v1h-3zM558,247h1v1h-1zM336,183h1v1h-1zM604,183h1v1h-1zM824,183h1v1h-1zM59,116h10v1h-10zM214,116h1v1h-1zM272,157h2v1h-2zM644,157h1v1h-1zM731,157h8v1h-8zM796,157h2v1h-2zM131,61h1v1h-1zM155,61h1v1h-1zM264,153h2v1h-2zM648,153h1v1h-1zM712,153h4v1h-4zM751,153h6v1h-6zM767,153h6v1h-6zM787,153h2v1h-2zM29,119h13v1h-13zM49,119h5v1h-5zM217,119h1v1h-1zM337,184h1v1h-1zM603,184h1v1h-1zM825,184h2v1h-2zM400,222h1v1h-1zM576,222h1v1h-1zM235,136h1v1h-1zM394,219h2v1h-2zM578,219h1v1h-1zM527,250h4v1h-4zM546,250h5v1h-5zM124,67h1v1h-1zM161,67h1v1h-1zM84,105h1v1h-1zM198,105h1v1h-1zM426,237h2v1h-2zM567,237h1v1h-1zM420,233h1v1h-1zM570,233h1v1h-1zM8,130h2v1h-2zM229,130h1v1h-1zM309,175h4v1h-4zM319,175h5v1h-5zM616,175h5v1h-5zM816,175h1v1h-1zM270,156h2v1h-2zM645,156h1v1h-1zM725,156h6v1h-6zM739,156h6v1h-6zM795,156h1v1h-1zM262,152h2v1h-2zM649,152h1v1h-1zM709,152h3v1h-3zM757,152h10v1h-10zM773,152h4v1h-4zM782,152h5v1h-5zM242,141h2v1h-2zM679,141h2v1h-2zM690,141h1v1h-1zM360,205h8v1h-8zM585,205h1v1h-1zM376,208h1v1h-1zM583,208h1v1h-1zM385,214h2v1h-2zM580,214h1v1h-1zM111,79h1v1h-1zM172,79h1v1h-1zM344,191h1v1h-1zM596,191h1v1h-1zM834,191h2v1h-2zM282,162h1v1h-1zM638,162h2v1h-2zM803,162h1v1h-1zM396,220h2v1h-2zM577,220h1v1h-1zM388,216h2v1h-2zM579,216h1v1h-1zM531,251h5v1h-5zM542,251h4v1h-4zM406,226h2v1h-2zM574,226h1v1h-1zM77,112h1v1h-1zM206,112h2v1h-2zM54,118h2v1h-2zM216,118h1v1h-1zM435,242h2v1h-2zM494,242h4v1h-4zM503,242h4v1h-4zM562,242h1v1h-1zM56,117h3v1h-3zM215,117h1v1h-1zM104,84h2v1h-2zM176,84h1v1h-1zM101,87h1v1h-1zM179,87h1v1h-1zM239,139h1v1h-1zM685,139h3v1h-3zM348,197h1v1h-1zM591,197h1v1h-1zM841,197h1v1h-1zM446,245h8v1h-8zM469,245h4v1h-4zM485,245h3v1h-3zM514,245h3v1h-3zM560,245h1v1h-1zM26,120h3v1h-3zM42,120h7v1h-7zM218,120h1v1h-1zM433,241h2v1h-2zM498,241h5v1h-5zM563,241h1v1h-1zM247,144h1v1h-1zM666,144h5v1h-5zM694,144h2v1h-2zM381,212h2v1h-2zM581,212h1v1h-1zM268,155h2v1h-2zM646,155h1v1h-1zM720,155h5v1h-5zM745,155h3v1h-3zM793,155h2v1h-2zM95,93h1v1h-1zM185,93h1v1h-1zM473,246h12v1h-12zM517,246h2v1h-2zM559,246h1v1h-1zM380,211h1v1h-1zM582,211h1v1h-1zM100,88h1v1h-1zM180,88h1v1h-1zM392,218h2v1h-2zM578,218h1v1h-1zM349,198h1v1h-1zM590,198h1v1h-1zM842,198h1v1h-1zM283,163h2v1h-2zM637,163h1v1h-1zM804,163h1v1h-1zM331,178h1v1h-1zM610,178h1v1h-1zM819,178h1v1h-1zM437,243h4v1h-4zM491,243h3v1h-3zM507,243h3v1h-3zM561,243h1v1h-1zM260,151h2v1h-2zM650,151h1v1h-1zM706,151h3v1h-3zM777,151h5v1h-5zM355,204h5v1h-5zM586,204h1v1h-1zM92,96h1v1h-1zM188,96h1v1h-1zM368,206h5v1h-5zM584,206h1v1h-1zM266,154h2v1h-2zM647,154h1v1h-1zM716,154h4v1h-4zM748,154h3v1h-3zM789,154h4v1h-4zM252,147h2v1h-2zM656,147h3v1h-3zM699,147h1v1h-1zM313,176h6v1h-6zM324,176h4v1h-4zM612,176h4v1h-4zM817,176h1v1h-1zM278,160h2v1h-2zM641,160h1v1h-1zM801,160h1v1h-1zM338,185h2v1h-2zM602,185h1v1h-1zM827,185h1v1h-1zM93,95h1v1h-1zM187,95h1v1h-1zM245,143h2v1h-2zM671,143h6v1h-6zM693,143h1v1h-1zM425,236h1v1h-1zM567,236h1v1h-1zM129,63h1v1h-1zM157,63h1v1h-1zM343,190h1v1h-1zM597,190h1v1h-1zM833,190h1v1h-1zM280,161h2v1h-2zM640,161h1v1h-1zM802,161h1v1h-1zM125,66h2v1h-2zM160,66h1v1h-1zM87,102h1v1h-1zM194,102h2v1h-2zM142,56h6v1h-6zM240,140h2v1h-2zM681,140h4v1h-4zM688,140h2v1h-2zM347,196h1v1h-1zM591,196h1v1h-1zM840,196h1v1h-1zM119,72h1v1h-1zM166,72h1v1h-1zM248,145h2v1h-2zM662,145h4v1h-4zM696,145h1v1h-1zM398,221h2v1h-2zM577,221h1v1h-1zM276,159h2v1h-2zM642,159h1v1h-1zM800,159h1v1h-1zM121,70h1v1h-1zM164,70h1v1h-1zM14,127h2v1h-2zM226,127h1v1h-1zM522,248h2v1h-2zM555,248h3v1h-3zM76,113h1v1h-1zM208,113h2v1h-2zM341,187h1v1h-1zM600,187h1v1h-1zM829,187h2v1h-2zM94,94h1v1h-1zM186,94h1v1h-1zM106,83h1v1h-1zM175,83h1v1h-1zM73,114h3v1h-3zM210,114h2v1h-2zM379,210h1v1h-1zM582,210h1v1h-1zM383,213h2v1h-2zM581,213h1v1h-1zM112,78h1v1h-1zM171,78h1v1h-1zM345,193h1v1h-1zM594,193h1v1h-1zM837,193h1v1h-1zM99,89h1v1h-1zM181,89h1v1h-1zM410,228h2v1h-2zM573,228h1v1h-1zM288,166h1v1h-1zM633,166h2v1h-2zM807,166h1v1h-1zM346,195h1v1h-1zM592,195h1v1h-1zM839,195h1v1h-1zM69,115h4v1h-4zM212,115h2v1h-2zM351,200h1v1h-1zM589,200h1v1h-1zM78,111h1v1h-1zM204,111h2v1h-2zM256,149h2v1h-2zM652,149h2v1h-2zM702,149h2v1h-2zM19,124h2v1h-2zM223,124h1v1h-1zM428,238h2v1h-2zM566,238h1v1h-1zM88,101h1v1h-1zM192,101h2v1h-2zM377,209h2v1h-2zM583,209h1v1h-1zM421,234h2v1h-2zM569,234h1v1h-1zM354,203h1v1h-1zM586,203h1v1h-1zM298,172h3v1h-3zM624,172h1v1h-1zM813,172h1v1h-1zM6,131h2v1h-2zM230,131h1v1h-1zM244,142h1v1h-1zM677,142h2v1h-2zM691,142h2v1h-2zM353,202h1v1h-1zM587,202h1v1h-1zM332,179h1v1h-1zM609,179h1v1h-1zM820,179h1v1h-1zM122,69h1v1h-1zM163,69h1v1h-1zM292,169h2v1h-2zM628,169h2v1h-2zM810,169h1v1h-1zM373,207h3v1h-3zM584,207h1v1h-1zM258,150h2v1h-2zM651,150h1v1h-1zM704,150h2v1h-2zM4,132h2v1h-2zM231,132h1v1h-1zM294,170h2v1h-2zM627,170h1v1h-1zM811,170h1v1h-1zM109,80h2v1h-2zM173,80h1v1h-1zM82,107h1v1h-1zM200,107h1v1h-1zM305,174h4v1h-4zM621,174h2v1h-2zM815,174h1v1h-1zM328,177h3v1h-3zM611,177h1v1h-1zM818,177h1v1h-1zM113,77h2v1h-2zM170,77h1v1h-1zM91,98h1v1h-1zM189,98h1v1h-1zM536,252h6v1h-6zM254,148h2v1h-2zM654,148h2v1h-2zM700,148h2v1h-2zM24,121h2v1h-2zM219,121h1v1h-1zM344,192h1v1h-1zM595,192h1v1h-1zM836,192h1v1h-1zM346,194h1v1h-1zM593,194h1v1h-1zM838,194h1v1h-1zM350,199h1v1h-1zM589,199h1v1h-1zM250,146h2v1h-2zM659,146h3v1h-3zM697,146h2v1h-2zM301,173h4v1h-4zM623,173h1v1h-1zM814,173h1v1h-1zM286,165h2v1h-2zM635,165h1v1h-1zM806,165h1v1h-1zM333,180h1v1h-1zM608,180h1v1h-1zM821,180h1v1h-1zM98,90h1v1h-1zM182,90h1v1h-1zM89,100h1v1h-1zM191,100h1v1h-1zM416,231h2v1h-2zM571,231h1v1h-1zM408,227h2v1h-2zM574,227h1v1h-1zM136,58h2v1h-2zM151,58h2v1h-2zM107,82h1v1h-1zM174,82h1v1h-1zM16,126h2v1h-2zM225,126h1v1h-1zM79,110h1v1h-1zM203,110h1v1h-1zM296,171h2v1h-2zM625,171h2v1h-2zM812,171h1v1h-1zM524,249h3v1h-3zM551,249h4v1h-4zM237,138h2v1h-2zM21,123h1v1h-1zM222,123h1v1h-1zM91,97h1v1h-1zM189,97h1v1h-1zM412,229h2v1h-2zM573,229h1v1h-1zM405,225h1v1h-1zM575,225h1v1h-1zM289,167h2v1h-2zM631,167h2v1h-2zM808,167h1v1h-1zM285,164h1v1h-1zM636,164h1v1h-1zM805,164h1v1h-1zM390,217h2v1h-2zM579,217h1v1h-1zM401,223h2v1h-2zM576,223h1v1h-1zM117,74h1v1h-1zM167,74h1v1h-1zM83,106h1v1h-1zM199,106h1v1h-1zM128,64h1v1h-1zM158,64h1v1h-1zM342,189h1v1h-1zM598,189h1v1h-1zM832,189h1v1h-1zM86,103h1v1h-1zM196,103h1v1h-1zM431,240h2v1h-2zM564,240h1v1h-1zM12,128h2v1h-2zM227,128h1v1h-1zM138,57h4v1h-4zM148,57h3v1h-3zM341,188h1v1h-1zM599,188h1v1h-1zM831,188h1v1h-1zM108,81h1v1h-1zM173,81h1v1h-1zM127,65h1v1h-1zM159,65h1v1h-1zM22,122h2v1h-2zM220,122h2v1h-2zM414,230h2v1h-2zM572,230h1v1h-1zM120,71h1v1h-1zM165,71h1v1h-1zM352,201h1v1h-1zM588,201h1v1h-1zM387,215h1v1h-1zM580,215h1v1h-1zM18,125h1v1h-1zM224,125h1v1h-1zM132,60h2v1h-2zM154,60h1v1h-1zM430,239h1v1h-1zM565,239h1v1h-1zM291,168h1v1h-1zM630,168h1v1h-1zM809,168h1v1h-1zM81,108h1v1h-1zM201,108h1v1h-1zM116,75h1v1h-1zM168,75h1v1h-1zM423,235h2v1h-2zM568,235h1v1h-1zM10,129h2v1h-2zM228,129h1v1h-1zM3,133h1v1h-1zM232,133h1v1h-1zM334,181h1v1h-1zM606,181h2v1h-2zM822,181h1v1h-1zM418,232h2v1h-2zM571,232h1v1h-1zM123,68h1v1h-1zM162,68h1v1h-1zM90,99h1v1h-1zM190,99h1v1h-1zM96,92h1v1h-1zM184,92h1v1h-1zM134,59h2v1h-2zM153,59h1v1h-1zM115,76h1v1h-1zM169,76h1v1h-1zM80,109h1v1h-1zM202,109h1v1h-1zM340,186h1v1h-1zM601,186h1v1h-1zM828,186h1v1h-1zM130,62h1v1h-1zM156,62h1v1h-1zM97,91h1v1h-1zM183,91h1v1h-1zM103,85h1v1h-1zM177,85h1v1h-1zM335,182h1v1h-1zM605,182h1v1h-1zM823,182h1v1h-1zM403,224h2v1h-2zM575,224h1v1h-1zM118,73h1v1h-1zM167,73h1v1h-1zM274,158h2v1h-2zM643,158h1v1h-1zM798,158h2v1h-2zM85,104h1v1h-1zM197,104h1v1h-1zM234,135h1v1h-1zM102,86h1v1h-1zM178,86h1v1h-1zM233,134h1v1h-1zM236,137h1v1h-1z" fill="#ffff00"/>
<g clip-path="url(#mainclip)">
<path d="M107.0,2.3 L101.5,11.5 L107.0,8.5 L112.5,11.5Z" fill="#f6f9ff" stroke="#a4aebb" stroke-width="0.9" shape-rendering="geometricPrecision"/>
<path d="M107.0,2.3 L101.5,11.5 L107.0,8.5Z" fill="#8a8a8a" stroke="#8a8a8a" stroke-width="0.4" shape-rendering="geometricPrecision"/>
<path d="M259.5,140.3 L254.0,149.5 L259.5,146.5 L265.0,149.5Z" fill="#f6f9ff" stroke="#a4aebb" stroke-width="0.9" shape-rendering="geometricPrecision"/>
<path d="M259.5,140.3 L254.0,149.5 L259.5,146.5Z" fill="#8a8a8a" stroke="#8a8a8a" stroke-width="0.4" shape-rendering="geometricPrecision"/>
<path d="M299.5,149.1 L294.0,158.2 L299.5,155.2 L305.0,158.2Z" fill="#f6f9ff" stroke="#a4aebb" stroke-width="0.9" shape-rendering="geometricPrecision"/>
<path d="M299.5,149.1 L294.0,158.2 L299.5,155.2Z" fill="#8a8a8a" stroke="#8a8a8a" stroke-width="0.4" shape-rendering="geometricPrecision"/>
<path d="M339.5,181.6 L334.0,190.8 L339.5,187.8 L345.0,190.8Z" fill="#f6f9ff" stroke="#a4aebb" stroke-width="0.9" shape-rendering="geometricPrecision"/>
<path d="M339.5,181.6 L334.0,190.8 L339.5,187.8Z" fill="#8a8a8a" stroke="#8a8a8a" stroke-width="0.4" shape-rendering="geometricPrecision"/>
<path d="M379.0,203.4 L373.5,212.6 L379.0,209.6 L384.5,212.6Z" fill="#f6f9ff" stroke="#a4aebb" stroke-width="0.9" shape-rendering="geometricPrecision"/>
<path d="M379.0,203.4 L373.5,212.6 L379.0,209.6Z" fill="#8a8a8a" stroke="#8a8a8a" stroke-width="0.4" shape-rendering="geometricPrecision"/>
<path d="M434.5,212.8 L429.0,222.0 L434.5,219.0 L440.0,222.0Z" fill="#f6f9ff" stroke="#a4aebb" stroke-width="0.9" shape-rendering="geometricPrecision"/>
<path d="M434.5,212.8 L429.0,222.0 L434.5,219.0Z" fill="#8a8a8a" stroke="#8a8a8a" stroke-width="0.4" shape-rendering="geometricPrecision"/>
<path d="M475.0,200.8 L469.5,210.0 L475.0,207.0 L480.5,210.0Z" fill="#f6f9ff" stroke="#a4aebb" stroke-width="0.9" shape-rendering="geometricPrecision"/>
<path d="M475.0,200.8 L469.5,210.0 L475.0,207.0Z" fill="#8a8a8a" stroke="#8a8a8a" stroke-width="0.4" shape-rendering="geometricPrecision"/>
<path d="M555.0,113.3 L549.5,122.5 L555.0,119.5 L560.5,122.5Z" fill="#f6f9ff" stroke="#a4aebb" stroke-width="0.9" shape-rendering="geometricPrecision"/>
<path d="M555.0,113.3 L549.5,122.5 L555.0,119.5Z" fill="#8a8a8a" stroke="#8a8a8a" stroke-width="0.4" shape-rendering="geometricPrecision"/>
<path d="M635.0,96.7 L629.5,105.9 L635.0,102.9 L640.5,105.9Z" fill="#f6f9ff" stroke="#a4aebb" stroke-width="0.9" shape-rendering="geometricPrecision"/>
<path d="M635.0,96.7 L629.5,105.9 L635.0,102.9Z" fill="#8a8a8a" stroke="#8a8a8a" stroke-width="0.4" shape-rendering="geometricPrecision"/>
<path d="M659.5,99.3 L654.0,108.5 L659.5,105.5 L665.0,108.5Z" fill="#f6f9ff" stroke="#a4aebb" stroke-width="0.9" shape-rendering="geometricPrecision"/>
<path d="M659.5,99.3 L654.0,108.5 L659.5,105.5Z" fill="#8a8a8a" stroke="#8a8a8a" stroke-width="0.4" shape-rendering="geometricPrecision"/>
<path d="M691.5,131.8 L686.0,141.0 L691.5,138.0 L697.0,141.0Z" fill="#f6f9ff" stroke="#a4aebb" stroke-width="0.9" shape-rendering="geometricPrecision"/>
<path d="M691.5,131.8 L686.0,141.0 L691.5,138.0Z" fill="#8a8a8a" stroke="#8a8a8a" stroke-width="0.4" shape-rendering="geometricPrecision"/>
<path d="M731.5,115.3 L726.0,124.5 L731.5,121.5 L737.0,124.5Z" fill="#f6f9ff" stroke="#a4aebb" stroke-width="0.9" shape-rendering="geometricPrecision"/>
<path d="M731.5,115.3 L726.0,124.5 L731.5,121.5Z" fill="#8a8a8a" stroke="#8a8a8a" stroke-width="0.4" shape-rendering="geometricPrecision"/>
<path d="M19.0,153.1 L13.5,143.9 L19.0,146.9 L24.5,143.9Z" fill="#f6f9ff" stroke="#a4aebb" stroke-width="0.9" shape-rendering="geometricPrecision"/>
<path d="M19.0,153.1 L24.5,143.9 L19.0,146.9Z" fill="#8a8a8a" stroke="#8a8a8a" stroke-width="0.4" shape-rendering="geometricPrecision"/>
<path d="M203.0,193.4 L197.5,184.2 L203.0,187.2 L208.5,184.2Z" fill="#f6f9ff" stroke="#a4aebb" stroke-width="0.9" shape-rendering="geometricPrecision"/>
<path d="M203.0,193.4 L208.5,184.2 L203.0,187.2Z" fill="#8a8a8a" stroke="#8a8a8a" stroke-width="0.4" shape-rendering="geometricPrecision"/>
<path d="M267.0,216.2 L261.5,207.0 L267.0,210.0 L272.5,207.0Z" fill="#f6f9ff" stroke="#a4aebb" stroke-width="0.9" shape-rendering="geometricPrecision"/>
<path d="M267.0,216.2 L272.5,207.0 L267.0,210.0Z" fill="#8a8a8a" stroke="#8a8a8a" stroke-width="0.4" shape-rendering="geometricPrecision"/>
<path d="M323.0,260.9 L317.5,251.8 L323.0,254.8 L328.5,251.8Z" fill="#f6f9ff" stroke="#a4aebb" stroke-width="0.9" shape-rendering="geometricPrecision"/>
<path d="M323.0,260.9 L328.5,251.8 L323.0,254.8Z" fill="#8a8a8a" stroke="#8a8a8a" stroke-width="0.4" shape-rendering="geometricPrecision"/>
<path d="M371.0,272.2 L365.5,263.0 L371.0,266.0 L376.5,263.0Z" fill="#f6f9ff" stroke="#a4aebb" stroke-width="0.9" shape-rendering="geometricPrecision"/>
<path d="M371.0,272.2 L376.5,263.0 L371.0,266.0Z" fill="#8a8a8a" stroke="#8a8a8a" stroke-width="0.4" shape-rendering="geometricPrecision"/>
<path d="M411.0,287.3 L405.5,278.1 L411.0,281.1 L416.5,278.1Z" fill="#f6f9ff" stroke="#a4aebb" stroke-width="0.9" shape-rendering="geometricPrecision"/>
<path d="M411.0,287.3 L416.5,278.1 L411.0,281.1Z" fill="#8a8a8a" stroke="#8a8a8a" stroke-width="0.4" shape-rendering="geometricPrecision"/>
<path d="M451.0,279.5 L445.5,270.3 L451.0,273.3 L456.5,270.3Z" fill="#f6f9ff" stroke="#a4aebb" stroke-width="0.9" shape-rendering="geometricPrecision"/>
<path d="M451.0,279.5 L456.5,270.3 L451.0,273.3Z" fill="#8a8a8a" stroke="#8a8a8a" stroke-width="0.4" shape-rendering="geometricPrecision"/>
<path d="M499.5,288.7 L494.0,279.5 L499.5,282.5 L505.0,279.5Z" fill="#f6f9ff" stroke="#a4aebb" stroke-width="0.9" shape-rendering="geometricPrecision"/>
<path d="M499.5,288.7 L505.0,279.5 L499.5,282.5Z" fill="#8a8a8a" stroke="#8a8a8a" stroke-width="0.4" shape-rendering="geometricPrecision"/>
<path d="M595.0,186.3 L589.5,177.1 L595.0,180.1 L600.5,177.1Z" fill="#f6f9ff" stroke="#a4aebb" stroke-width="0.9" shape-rendering="geometricPrecision"/>
<path d="M595.0,186.3 L600.5,177.1 L595.0,180.1Z" fill="#8a8a8a" stroke="#8a8a8a" stroke-width="0.4" shape-rendering="geometricPrecision"/>
<path d="M683.0,194.1 L677.5,184.9 L683.0,187.9 L688.5,184.9Z" fill="#f6f9ff" stroke="#a4aebb" stroke-width="0.9" shape-rendering="geometricPrecision"/>
<path d="M683.0,194.1 L688.5,184.9 L683.0,187.9Z" fill="#8a8a8a" stroke="#8a8a8a" stroke-width="0.4" shape-rendering="geometricPrecision"/>
<path d="M707.0,198.4 L701.5,189.2 L707.0,192.2 L712.5,189.2Z" fill="#f6f9ff" stroke="#a4aebb" stroke-width="0.9" shape-rendering="geometricPrecision"/>
<path d="M707.0,198.4 L712.5,189.2 L707.0,192.2Z" fill="#8a8a8a" stroke="#8a8a8a" stroke-width="0.4" shape-rendering="geometricPrecision"/>
</g>
<rect x="3" y="291" width="1" height="38" fill="#ff0000"/>
<rect x="11" y="295" width="1" height="34" fill="#ff0000"/>
<rect x="19" y="298" width="1" height="31" fill="#ff0000"/>
<rect x="27" y="300" width="1" height="29" fill="#ff0000"/>
<rect x="35" y="301" width="1" height="28" fill="#ff0000"/>
<rect x="43" y="303" width="1" height="26" fill="#ff0000"/>
<rect x="51" y="304" width="1" height="25" fill="#ff0000"/>
<rect x="59" y="302" width="1" height="27" fill="#008000"/>
<rect x="67" y="301" width="1" height="28" fill="#008000"/>
<rect x="75" y="299" width="1" height="30" fill="#008000"/>
<rect x="83" y="297" width="1" height="32" fill="#008000"/>
<rect x="91" y="295" width="1" height="34" fill="#008000"/>
<rect x="99" y="295" width="1" height="34" fill="#008000"/>
<rect x="107" y="296" width="1" height="33" fill="#ff0000"/>
<rect x="115" y="298" width="1" height="31" fill="#ff0000"/>
<rect x="123" y="300" width="1" height="29" fill="#ff0000"/>
<rect x="131" y="303" width="1" height="26" fill="#ff0000"/>
<rect x="139" y="309" width="1" height="20" fill="#ff0000"/>
<rect x="147" y="316" width="1" height="13" fill="#ff0000"/>
<rect x="155" y="323" width="1" height="6" fill="#ff0000"/>
<rect x="171" y="328" width="1" height="6" fill="#ff0000"/>
<rect x="179" y="328" width="1" height="9" fill="#ff0000"/>
<rect x="187" y="328" width="1" height="11" fill="#ff0000"/>
<rect x="195" y="328" width="1" height="13" fill="#ff0000"/>
<rect x="203" y="328" width="1" height="15" fill="#ff0000"/>
<rect x="211" y="328" width="1" height="18" fill="#ff0000"/>
<rect x="219" y="328" width="1" height="19" fill="#ff0000"/>
<rect x="227" y="328" width="1" height="20" fill="#ff0000"/>
<rect x="235" y="328" width="1" height="21" fill="#ff0000"/>
<rect x="243" y="328" width="1" height="21" fill="#ff0000"/>
<rect x="251" y="328" width="1" height="20" fill="#008000"/>
<rect x="259" y="328" width="1" height="21" fill="#ff0000"/>
<rect x="267" y="328" width="1" height="22" fill="#ff0000"/>
<rect x="275" y="328" width="1" height="23" fill="#ff0000"/>
<rect x="283" y="328" width="1" height="23" fill="#ff0000"/>
<rect x="291" y="328" width="1" height="23" fill="#ff0000"/>
<rect x="299" y="328" width="1" height="22" fill="#008000"/>
<rect x="307" y="328" width="1" height="21" fill="#008000"/>
<rect x="315" y="328" width="1" height="22" fill="#ff0000"/>
<rect x="323" y="328" width="1" height="24" fill="#ff0000"/>
<rect x="331" y="328" width="1" height="26" fill="#ff0000"/>
<rect x="339" y="328" width="1" height="27" fill="#ff0000"/>
<rect x="347" y="328" width="1" height="27" fill="#008000"/>
<rect x="355" y="328" width="1" height="26" fill="#008000"/>
<rect x="363" y="328" width="1" height="23" fill="#008000"/>
<rect x="371" y="328" width="1" height="22" fill="#008000"/>
<rect x="379" y="328" width="1" height="22" fill="#008000"/>
<rect x="387" y="328" width="1" height="22" fill="#ff0000"/>
<rect x="395" y="328" width="1" height="22" fill="#008000"/>
<rect x="403" y="328" width="1" height="21" fill="#008000"/>
<rect x="411" y="328" width="1" height="21" fill="#008000"/>
<rect x="419" y="328" width="1" height="21" fill="#008000"/>
<rect x="427" y="328" width="1" height="20" fill="#008000"/>
<rect x="435" y="328" width="1" height="19" fill="#008000"/>
<rect x="443" y="328" width="1" height="17" fill="#008000"/>
<rect x="451" y="328" width="1" height="15" fill="#008000"/>
<rect x="459" y="328" width="1" height="12" fill="#008000"/>
<rect x="467" y="328" width="1" height="11" fill="#008000"/>
<rect x="475" y="328" width="1" height="10" fill="#008000"/>
<rect x="483" y="328" width="1" height="10" fill="#008000"/>
<rect x="491" y="328" width="1" height="9" fill="#008000"/>
<rect x="499" y="328" width="1" height="9" fill="#ff0000"/>
<rect x="507" y="328" width="1" height="10" fill="#ff0000"/>
<rect x="515" y="328" width="1" height="10" fill="#ff0000"/>
<rect x="523" y="328" width="1" height="10" fill="#008000"/>
<rect x="531" y="328" width="1" height="7" fill="#008000"/>
<rect x="539" y="328" width="1" height="6" fill="#008000"/>
<rect x="547" y="327" width="1" height="2" fill="#008000"/>
<rect x="555" y="321" width="1" height="8" fill="#008000"/>
<rect x="563" y="315" width="1" height="14" fill="#008000"/>
<rect x="571" y="308" width="1" height="21" fill="#008000"/>
<rect x="579" y="304" width="1" height="25" fill="#008000"/>
<rect x="587" y="303" width="1" height="26" fill="#008000"/>
<rect x="595" y="305" width="1" height="24" fill="#ff0000"/>
<rect x="603" y="306" width="1" height="23" fill="#ff0000"/>
<rect x="611" y="306" width="1" height="23" fill="#ff0000"/>
<rect x="619" y="305" width="1" height="24" fill="#008000"/>
<rect x="627" y="304" width="1" height="25" fill="#008000"/>
<rect x="635" y="303" width="1" height="26" fill="#008000"/>
<rect x="643" y="303" width="1" height="26" fill="#ff0000"/>
<rect x="651" y="303" width="1" height="26" fill="#ff0000"/>
<rect x="659" y="304" width="1" height="25" fill="#ff0000"/>
<rect x="667" y="307" width="1" height="22" fill="#ff0000"/>
<rect x="675" y="310" width="1" height="19" fill="#ff0000"/>
<rect x="683" y="314" width="1" height="15" fill="#ff0000"/>
<rect x="691" y="316" width="1" height="13" fill="#ff0000"/>
<rect x="699" y="319" width="1" height="10" fill="#ff0000"/>
<rect x="707" y="321" width="1" height="8" fill="#ff0000"/>
<rect x="715" y="321" width="1" height="8" fill="#008000"/>
<rect x="723" y="321" width="1" height="8" fill="#008000"/>
<rect x="731" y="321" width="1" height="8" fill="#ff0000"/>
<rect x="739" y="321" width="1" height="8" fill="#008000"/>
<rect x="747" y="321" width="1" height="8" fill="#ff0000"/>
<rect x="755" y="322" width="1" height="7" fill="#ff0000"/>
<rect x="763" y="323" width="1" height="6" fill="#ff0000"/>
<rect x="771" y="325" width="1" height="4" fill="#ff0000"/>
<rect x="779" y="327" width="1" height="2" fill="#ff0000"/>
<rect x="787" y="328" width="1" height="4" fill="#ff0000"/>
<rect x="795" y="328" width="1" height="9" fill="#ff0000"/>
<rect x="803" y="328" width="1" height="13" fill="#ff0000"/>
<rect x="811" y="328" width="1" height="17" fill="#ff0000"/>
<rect x="819" y="328" width="1" height="20" fill="#ff0000"/>
<rect x="3" y="394" width="1" height="10" fill="#ff0000"/>
<rect x="11" y="394" width="1" height="15" fill="#ff0000"/>
<rect x="19" y="394" width="1" height="16" fill="#ff0000"/>
<rect x="27" y="394" width="1" height="14" fill="#008000"/>
<rect x="35" y="394" width="1" height="11" fill="#008000"/>
<rect x="43" y="394" width="1" height="10" fill="#008000"/>
<rect x="51" y="394" width="1" height="8" fill="#008000"/>
<rect x="59" y="394" width="1" height="1" fill="#008000"/>
<rect x="67" y="391" width="1" height="4" fill="#008000"/>
<rect x="75" y="388" width="1" height="7" fill="#008000"/>
<rect x="83" y="387" width="1" height="8" fill="#008000"/>
<rect x="91" y="387" width="1" height="8" fill="#ff0000"/>
<rect x="99" y="390" width="1" height="5" fill="#ff0000"/>
<rect x="107" y="394" width="1" height="1" fill="#ff0000"/>
<rect x="115" y="394" width="1" height="4" fill="#ff0000"/>
<rect x="123" y="394" width="1" height="8" fill="#ff0000"/>
<rect x="131" y="394" width="1" height="13" fill="#ff0000"/>
<rect x="139" y="394" width="1" height="20" fill="#ff0000"/>
<rect x="147" y="394" width="1" height="27" fill="#ff0000"/>
<rect x="155" y="394" width="1" height="29" fill="#ff0000"/>
<rect x="163" y="394" width="1" height="31" fill="#ff0000"/>
<rect x="171" y="394" width="1" height="27" fill="#008000"/>
<rect x="179" y="394" width="1" height="22" fill="#008000"/>
<rect x="187" y="394" width="1" height="17" fill="#008000"/>
<rect x="195" y="394" width="1" height="13" fill="#008000"/>
<rect x="203" y="394" width="1" height="11" fill="#008000"/>
<rect x="211" y="394" width="1" height="11" fill="#008000"/>
<rect x="219" y="394" width="1" height="9" fill="#008000"/>
<rect x="227" y="394" width="1" height="8" fill="#008000"/>
<rect x="235" y="394" width="1" height="7" fill="#008000"/>
<rect x="243" y="394" width="1" height="4" fill="#008000"/>
<rect x="251" y="394" width="1" height="1" fill="#008000"/>
<rect x="259" y="394" width="1" height="1" fill="#ff0000"/>
<rect x="267" y="394" width="1" height="4" fill="#ff0000"/>
<rect x="275" y="394" width="1" height="4" fill="#ff0000"/>
<rect x="283" y="394" width="1" height="1" fill="#008000"/>
<rect x="291" y="394" width="1" height="1" fill="#008000"/>
<rect x="299" y="394" width="1" height="1" fill="#008000"/>
<rect x="307" y="392" width="1" height="3" fill="#008000"/>
<rect x="323" y="394" width="1" height="6" fill="#ff0000"/>
<rect x="331" y="394" width="1" height="8" fill="#ff0000"/>
<rect x="339" y="394" width="1" height="8" fill="#ff0000"/>
<rect x="347" y="394" width="1" height="5" fill="#008000"/>
<rect x="355" y="394" width="1" height="1" fill="#008000"/>
<rect x="363" y="389" width="1" height="6" fill="#008000"/>
<rect x="371" y="388" width="1" height="7" fill="#008000"/>
<rect x="379" y="390" width="1" height="5" fill="#ff0000"/>
<rect x="387" y="392" width="1" height="3" fill="#ff0000"/>
<rect x="395" y="394" width="1" height="1" fill="#ff0000"/>
<rect x="403" y="394" width="1" height="1" fill="#008000"/>
<rect x="411" y="394" width="1" height="1" fill="#ff0000"/>
<rect x="419" y="394" width="1" height="1" fill="#ff0000"/>
<rect x="427" y="394" width="1" height="1" fill="#008000"/>
<rect x="435" y="391" width="1" height="4" fill="#008000"/>
<rect x="443" y="389" width="1" height="6" fill="#008000"/>
<rect x="451" y="386" width="1" height="9" fill="#008000"/>
<rect x="459" y="387" width="1" height="8" fill="#008000"/>
<rect x="467" y="387" width="1" height="8" fill="#008000"/>
<rect x="475" y="387" width="1" height="8" fill="#ff0000"/>
<rect x="483" y="390" width="1" height="5" fill="#ff0000"/>
<rect x="491" y="391" width="1" height="4" fill="#ff0000"/>
<rect x="499" y="393" width="1" height="2" fill="#ff0000"/>
<rect x="507" y="394" width="1" height="1" fill="#ff0000"/>
<rect x="515" y="394" width="1" height="3" fill="#ff0000"/>
<rect x="523" y="394" width="1" height="1" fill="#008000"/>
<rect x="531" y="393" width="1" height="2" fill="#008000"/>
<rect x="539" y="388" width="1" height="7" fill="#008000"/>
<rect x="547" y="380" width="1" height="15" fill="#008000"/>
<rect x="555" y="372" width="1" height="23" fill="#008000"/>
<rect x="563" y="367" width="1" height="28" fill="#008000"/>
<rect x="571" y="365" width="1" height="30" fill="#008000"/>
<rect x="579" y="369" width="1" height="26" fill="#ff0000"/>
<rect x="587" y="378" width="1" height="17" fill="#ff0000"/>
<rect x="595" y="390" width="1" height="5" fill="#ff0000"/>
<rect x="603" y="394" width="1" height="3" fill="#ff0000"/>
<rect x="611" y="394" width="1" height="4" fill="#ff0000"/>
<rect x="619" y="394" width="1" height="1" fill="#008000"/>
<rect x="627" y="392" width="1" height="3" fill="#008000"/>
<rect x="635" y="390" width="1" height="5" fill="#008000"/>
<rect x="643" y="392" width="1" height="3" fill="#ff0000"/>
<rect x="659" y="394" width="1" height="3" fill="#ff0000"/>
<rect x="667" y="394" width="1" height="8" fill="#ff0000"/>
<rect x="675" y="394" width="1" height="12" fill="#ff0000"/>
<rect x="683" y="394" width="1" height="15" fill="#ff0000"/>
<rect x="691" y="394" width="1" height="15" fill="#ff0000"/>
<rect x="699" y="394" width="1" height="15" fill="#ff0000"/>
<rect x="707" y="394" width="1" height="13" fill="#008000"/>
<rect x="715" y="394" width="1" height="8" fill="#008000"/>
<rect x="723" y="394" width="1" height="4" fill="#008000"/>
<rect x="731" y="394" width="1" height="1" fill="#008000"/>
<rect x="755" y="394" width="1" height="1" fill="#ff0000"/>
<rect x="763" y="394" width="1" height="5" fill="#ff0000"/>
<rect x="771" y="394" width="1" height="8" fill="#ff0000"/>
<rect x="779" y="394" width="1" height="11" fill="#ff0000"/>
<rect x="787" y="394" width="1" height="15" fill="#ff0000"/>
<rect x="795" y="394" width="1" height="19" fill="#ff0000"/>
<rect x="803" y="394" width="1" height="21" fill="#ff0000"/>
<rect x="811" y="394" width="1" height="19" fill="#008000"/>
<rect x="819" y="394" width="1" height="18" fill="#008000"/>
<rect x="447.5" y="267.5" width="42" height="12" fill="#fff" stroke="#ff0000" stroke-width="1"/>
<rect x="490" y="273" width="9" height="1" fill="#ff0000"/>
<rect x="2" y="2" width="1035" height="1" fill="#000"/>
<rect x="2" y="283" width="1035" height="1" fill="#000"/>
<rect x="2" y="2" width="1" height="282" fill="#000"/>
<rect x="1036" y="2" width="1" height="282" fill="#000"/>
<rect x="2" y="285" width="1035" height="1" fill="#000"/>
<rect x="2" y="358" width="1035" height="1" fill="#000"/>
<rect x="2" y="285" width="1" height="74" fill="#000"/>
<rect x="1036" y="285" width="1" height="74" fill="#000"/>
<rect x="2" y="360" width="1035" height="1" fill="#000"/>
<rect x="2" y="427" width="1035" height="1" fill="#000"/>
<rect x="2" y="360" width="1" height="68" fill="#000"/>
<rect x="1036" y="360" width="1" height="68" fill="#000"/>
<rect x="1037" y="16" width="2" height="1" fill="#000"/>
<rect x="1037" y="49" width="2" height="1" fill="#000"/>
<rect x="1037" y="82" width="2" height="1" fill="#000"/>
<rect x="1037" y="115" width="2" height="1" fill="#000"/>
<rect x="1037" y="148" width="2" height="1" fill="#000"/>
<rect x="1037" y="181" width="2" height="1" fill="#000"/>
<rect x="1037" y="214" width="2" height="1" fill="#000"/>
<rect x="1037" y="247" width="2" height="1" fill="#000"/>
<rect x="1037" y="280" width="2" height="1" fill="#000"/>
<rect x="1038" y="218" width="42" height="11" fill="#000"/>
<rect x="1037" y="287" width="2" height="1" fill="#000"/>
<rect x="1037" y="328" width="2" height="1" fill="#000"/>
<rect x="1037" y="357" width="2" height="1" fill="#000"/>
<rect x="1037" y="362" width="2" height="1" fill="#000"/>
<rect x="1037" y="394" width="2" height="1" fill="#000"/>
<rect x="1037" y="425" width="2" height="1" fill="#000"/>
<path d="M6,9 L13,9 L9.5,12.5 Z" fill="#000" shape-rendering="geometricPrecision"/>
<rect x="3" y="428" width="1" height="3" fill="#000"/>
<rect x="67" y="428" width="1" height="3" fill="#000"/>
<rect x="131" y="428" width="1" height="3" fill="#000"/>
<rect x="195" y="428" width="1" height="3" fill="#000"/>
<rect x="259" y="428" width="1" height="3" fill="#000"/>
<rect x="323" y="428" width="1" height="3" fill="#000"/>
<rect x="387" y="428" width="1" height="3" fill="#000"/>
<rect x="451" y="428" width="1" height="3" fill="#000"/>
<rect x="515" y="428" width="1" height="3" fill="#000"/>
<rect x="579" y="428" width="1" height="3" fill="#000"/>
<rect x="643" y="428" width="1" height="3" fill="#000"/>
<rect x="707" y="428" width="1" height="3" fill="#000"/>
<rect x="771" y="428" width="1" height="3" fill="#000"/>
</g>
<g>
<text transform="translate(1042,20) scale(0.9129,1)" font-size="10" fill="#000" stroke="#000" stroke-width="0.1">0.94730</text>
<text transform="translate(1042,53) scale(0.9129,1)" font-size="10" fill="#000" stroke="#000" stroke-width="0.1">0.94030</text>
<text transform="translate(1042,86) scale(0.9129,1)" font-size="10" fill="#000" stroke="#000" stroke-width="0.1">0.93350</text>
<text transform="translate(1042,119) scale(0.9129,1)" font-size="10" fill="#000" stroke="#000" stroke-width="0.1">0.92650</text>
<text transform="translate(1042,152) scale(0.9129,1)" font-size="10" fill="#000" stroke="#000" stroke-width="0.1">0.91950</text>
<text transform="translate(1042,185) scale(0.9129,1)" font-size="10" fill="#000" stroke="#000" stroke-width="0.1">0.91250</text>
<text transform="translate(1042,218) scale(0.9129,1)" font-size="10" fill="#000" stroke="#000" stroke-width="0.1">0.90550</text>
<text transform="translate(1042,251) scale(0.9129,1)" font-size="10" fill="#000" stroke="#000" stroke-width="0.1">0.89850</text>
<text transform="translate(1042,284) scale(0.9129,1)" font-size="10" fill="#000" stroke="#000" stroke-width="0.1">0.89170</text>
<text transform="translate(1042,227) scale(0.9129,1)" font-size="10" fill="#fff" stroke="#fff" stroke-width="0.12">0.90365</text>
<text transform="translate(1040,296) scale(0.8991,1)" font-size="10" fill="#000" stroke="#000" stroke-width="0.1">0.025772</text>
<text transform="translate(1040,332) scale(0.8734,1)" font-size="10" fill="#000" stroke="#000" stroke-width="0.1">0.00</text>
<text transform="translate(1040,355) scale(0.8881,1)" font-size="10" fill="#000" stroke="#000" stroke-width="0.1">-0.018507</text>
<text transform="translate(1040,370.5) scale(0.8885,1)" font-size="10" fill="#000" stroke="#000" stroke-width="0.1">0.0088214</text>
<text transform="translate(1040,398) scale(0.8734,1)" font-size="10" fill="#000" stroke="#000" stroke-width="0.1">0.00</text>
<text transform="translate(1040,424.5) scale(0.8893,1)" font-size="10" fill="#000" stroke="#000" stroke-width="0.1">-0.0087528</text>
<text transform="translate(18,14) scale(0.9914,1)" font-size="10" fill="#000" stroke="#000" stroke-width="0.1">USDCHF,Daily</text>
<text transform="translate(89.5,14) scale(0.8852,1)" font-size="10" fill="#000" stroke="#000" stroke-width="0.1">0.90325</text>
<text transform="translate(125.5,14) scale(0.8852,1)" font-size="10" fill="#000" stroke="#000" stroke-width="0.1">0.90423</text>
<text transform="translate(161.5,14) scale(0.8852,1)" font-size="10" fill="#000" stroke="#000" stroke-width="0.1">0.90215</text>
<text transform="translate(197.5,14) scale(0.8852,1)" font-size="10" fill="#000" stroke="#000" stroke-width="0.1">0.90365</text>
<text transform="translate(8,298) scale(0.9427,1)" font-size="10" fill="#000" stroke="#000" stroke-width="0.1">AO -0.011837</text>
<text transform="translate(8,373) scale(0.9216,1)" font-size="10" fill="#000" stroke="#000" stroke-width="0.1">AC -0.0044808</text>
<text transform="translate(449,278) scale(1.0178,1)" font-size="10.6" fill="#ff0000" stroke="#ff0000" stroke-width="0.15">0.89320</text>
<text transform="translate(3,440) scale(0.9050,1)" font-size="10" fill="#000" stroke="#000" stroke-width="0.1">15 Mar 2021</text>
<text transform="translate(67,440) scale(0.9050,1)" font-size="10" fill="#000" stroke="#000" stroke-width="0.1">25 Mar 2021</text>
<text transform="translate(131,440) scale(0.9050,1)" font-size="10" fill="#000" stroke="#000" stroke-width="0.1">6 Apr 2021</text>
<text transform="translate(195,440) scale(0.9050,1)" font-size="10" fill="#000" stroke="#000" stroke-width="0.1">16 Apr 2021</text>
<text transform="translate(259,440) scale(0.9050,1)" font-size="10" fill="#000" stroke="#000" stroke-width="0.1">28 Apr 2021</text>
<text transform="translate(323,440) scale(0.9050,1)" font-size="10" fill="#000" stroke="#000" stroke-width="0.1">10 May 2021</text>
<text transform="translate(387,440) scale(0.9050,1)" font-size="10" fill="#000" stroke="#000" stroke-width="0.1">20 May 2021</text>
<text transform="translate(451,440) scale(0.9050,1)" font-size="10" fill="#000" stroke="#000" stroke-width="0.1">1 Jun 2021</text>
<text transform="translate(515,440) scale(0.9050,1)" font-size="10" fill="#000" stroke="#000" stroke-width="0.1">11 Jun 2021</text>
<text transform="translate(579,440) scale(0.9050,1)" font-size="10" fill="#000" stroke="#000" stroke-width="0.1">23 Jun 2021</text>
<text transform="translate(643,440) scale(0.9050,1)" font-size="10" fill="#000" stroke="#000" stroke-width="0.1">5 Jul 2021</text>
<text transform="translate(707,440) scale(0.9050,1)" font-size="10" fill="#000" stroke="#000" stroke-width="0.1">15 Jul 2021</text>
<text transform="translate(771,440) scale(0.9050,1)" font-size="10" fill="#000" stroke="#000" stroke-width="0.1">27 Jul 2021</text>
</g>
</svg>
</body></html>
